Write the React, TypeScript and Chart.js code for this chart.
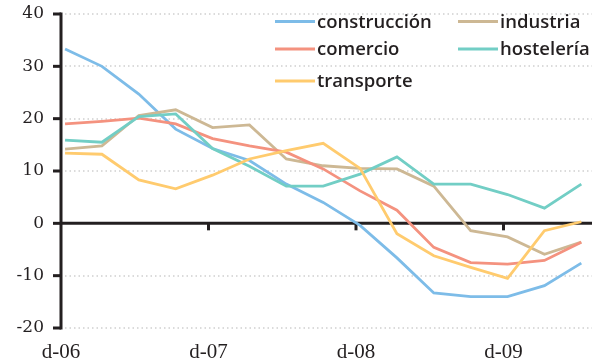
import { useEffect, useRef } from "react";
import { Chart, registerables } from "chart.js";

Chart.register(...registerables);

// Quarterly balances, December 2006 to June 2010
const xTickLabels = ["d-06", "d-07", "d-08", "d-09"];
const yTickValues = [-20, -10, 0, 10, 20, 30, 40];

const construccion = [33.3, 30.0, 24.7, 18.0, 14.3, 12.0, 7.5, 4.0, -0.4, -6.6, -13.3, -14.0, -14.0, -11.9, -7.6];
const industria = [14.2, 14.8, 20.6, 21.7, 18.3, 18.8, 12.3, 11.0, 10.5, 10.4, 7.1, -1.4, -2.6, -5.9, -3.6];
const comercio = [19.0, 19.5, 20.1, 19.0, 16.2, 14.8, 13.6, 10.4, 6.2, 2.5, -4.6, -7.5, -7.8, -7.1, -3.6];
const hosteleria = [15.9, 15.5, 20.4, 20.9, 14.3, 10.9, 7.1, 7.1, 9.4, 12.7, 7.5, 7.5, 5.5, 2.9, 7.5];
const transporte = [13.4, 13.2, 8.3, 6.6, 9.2, 12.3, 13.9, 15.3, 10.5, -2.0, -6.2, -8.4, -10.5, -1.4, 0.3];

const seriesNames = ["construcción", "industria", "comercio", "hostelería", "transporte"];
const seriesValues = [construccion, industria, comercio, hosteleria, transporte];
const seriesColors = ["#7dbce8", "#cdb894", "#f4927f", "#72cec5", "#ffcb6e"];

const INK = "#231f20";
const POINT_SHIFT = 0.11; // points sit slightly right of the year ticks

function strokeLine(ctx: CanvasRenderingContext2D, x1: number, y1: number, x2: number, y2: number) {
  ctx.beginPath();
  ctx.moveTo(x1, y1);
  ctx.lineTo(x2, y2);
  ctx.stroke();
}

const axesPlugin = {
  id: "axesDecor",
  beforeDatasetsDraw(chart: any) {
    const ctx: CanvasRenderingContext2D = chart.ctx;
    const xs = chart.scales.x;
    const ys = chart.scales.y;
    const left = xs.getPixelForValue(0);
    const right = chart.chartArea.right;
    const top = ys.getPixelForValue(40);
    const bottom = ys.getPixelForValue(-20);
    ctx.save();
    // dotted horizontal gridlines
    ctx.strokeStyle = "#cfcfcf";
    ctx.lineWidth = 1.5;
    ctx.setLineDash([1.5, 3]);
    for (const v of yTickValues) {
      if (v === 0) continue;
      const py = Math.round(ys.getPixelForValue(v));
      strokeLine(ctx, left + 4, py, right, py);
    }
    ctx.setLineDash([]);
    // vertical axis with its tick marks
    ctx.strokeStyle = INK;
    ctx.lineWidth = 3;
    strokeLine(ctx, left, top - 1.5, left, bottom + 1.5);
    for (const v of yTickValues) {
      const py = ys.getPixelForValue(v);
      strokeLine(ctx, left - 8, py, left, py);
    }
    // zero line and year tick marks
    const zy = ys.getPixelForValue(0);
    strokeLine(ctx, left, zy, right, zy);
    for (let i = 1; i < xTickLabels.length; i++) {
      const px = xs.getPixelForValue(i * 4);
      strokeLine(ctx, px, zy, px, zy + 7);
    }
    ctx.restore();
  },
  afterDraw(chart: any) {
    const ctx: CanvasRenderingContext2D = chart.ctx;
    const cols = [275, 458];
    const rows = [21.5, 49, 81];
    ctx.save();
    ctx.font = "600 18.5px 'Open Sans'";
    ctx.textBaseline = "middle";
    ctx.textAlign = "left";
    seriesNames.forEach((name, i) => {
      const cx = cols[i % 2];
      const cy = rows[Math.floor(i / 2)];
      ctx.strokeStyle = seriesColors[i];
      ctx.lineWidth = 3;
      strokeLine(ctx, cx, cy, cx + 40, cy);
      ctx.fillStyle = INK;
      ctx.fillText(name, cx + 42, cy + 1);
    });
    ctx.restore();
  },
};

export default function App() {
  const canvasRef = useRef<HTMLCanvasElement | null>(null);

  useEffect(() => {
    if (!canvasRef.current) return;
    const chart = new Chart(canvasRef.current, {
      type: "line",
      data: {
        datasets: seriesValues.map((vals, i) => ({
          label: seriesNames[i],
          data: vals.map((v, k) => ({ x: k + POINT_SHIFT, y: v })),
          borderColor: seriesColors[i],
          backgroundColor: seriesColors[i],
          borderWidth: 2.8,
          pointRadius: 0,
          tension: 0,
          fill: false,
          order: seriesValues.length - 1 - i,
        })),
      },
      options: {
        animation: false,
        responsive: false,
        maintainAspectRatio: false,
        layout: { padding: { top: 14, right: 5, left: 0, bottom: 0 } },
        plugins: { legend: { display: false }, tooltip: { enabled: false } },
        scales: {
          x: {
            type: "linear",
            min: 0,
            max: 14.4,
            afterFit: (s: any) => {
              s.height = 35;
              s.paddingLeft = 0;
              s.paddingRight = 0;
            },
            afterBuildTicks: (s: any) => {
              s.ticks = xTickLabels.map((_, i) => ({ value: i * 4 }));
            },
            grid: { display: false, drawTicks: false },
            border: { display: false },
            ticks: {
              padding: 12,
              color: INK,
              font: { family: "'Liberation Serif'", size: 21 },
              callback: (v: any) => xTickLabels[Math.round(Number(v) / 4)],
            },
          },
          y: {
            type: "linear",
            min: -20,
            max: 40,
            afterFit: (s: any) => {
              s.width = 61;
              s.paddingTop = 0;
              s.paddingBottom = 0;
            },
            afterBuildTicks: (s: any) => {
              s.ticks = yTickValues.map((v) => ({ value: v }));
            },
            grid: { display: false, drawTicks: false },
            border: { display: false },
            ticks: {
              padding: 17,
              color: INK,
              font: { family: "'DejaVu Serif'", size: 17 },
              callback: (v: any) => String(v),
            },
          },
        },
      },
      plugins: [axesPlugin],
    });
    return () => chart.destroy();
  }, []);

  return (
    <div style={{ position: "fixed", left: 0, top: 0, width: 597, height: 363, background: "#fff" }}>
      <canvas ref={canvasRef} width={597} height={363} />
    </div>
  );
}
